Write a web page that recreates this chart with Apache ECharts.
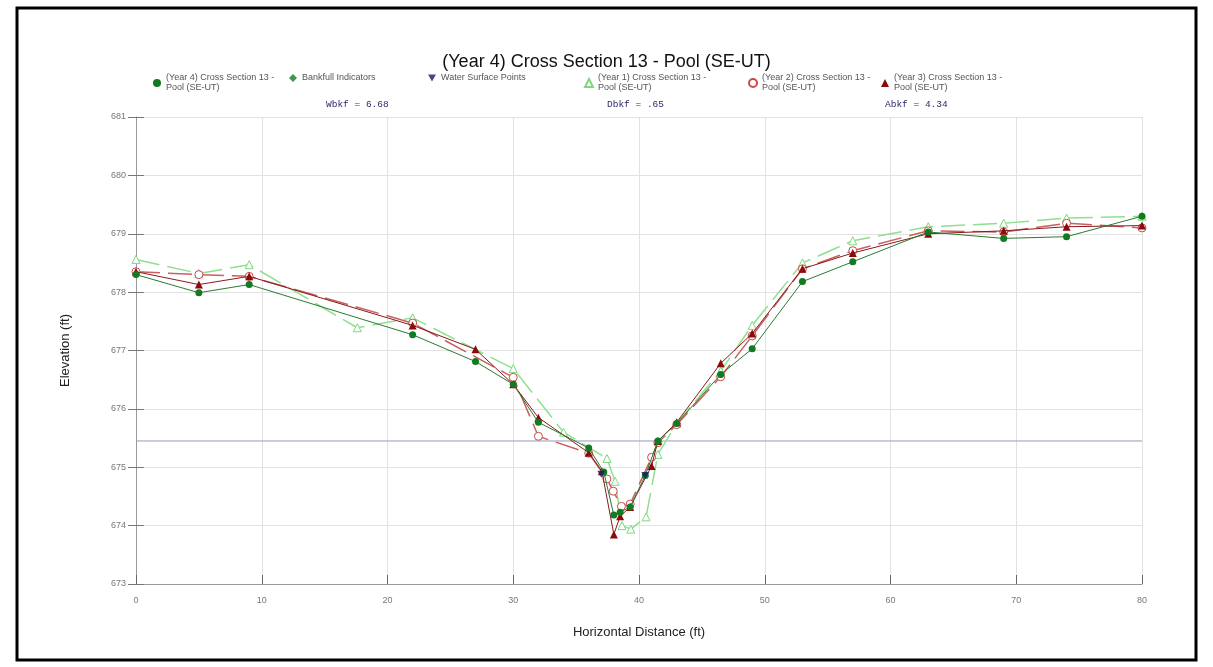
<!DOCTYPE html>
<html>
<head>
<meta charset="utf-8">
<script src="https://cdn.jsdelivr.net/npm/echarts@6/dist/echarts.min.js"></script>
<style>html,body{margin:0;padding:0;background:#fff}#c{width:1213px;height:667px}</style>
</head>
<body>
<div id="c"></div>
<script>
const titleText = '(Year 4) Cross Section 13 - Pool (SE-UT)';
const nameY4 = '(Year 4) Cross Section 13 - Pool (SE-UT)';
const nameY1 = '(Year 1) Cross Section 13 - Pool (SE-UT)';
const nameY2 = '(Year 2) Cross Section 13 - Pool (SE-UT)';
const nameY3 = '(Year 3) Cross Section 13 - Pool (SE-UT)';
const nameBank = 'Bankfull Indicators';
const nameWS = 'Water Surface Points';

const year4 = [[0,678.3],[5,677.99],[9,678.13],[22,677.27],[27,676.81],[30,676.42],[32,675.77],[36,675.33],[37.2,674.92],[38,674.18],[38.5,674.23],[39.3,674.32],[40.5,674.86],[41.5,675.45],[43,675.75],[46.5,676.59],[49,677.03],[53,678.18],[57,678.52],[63,679.03],[69,678.92],[74,678.95],[80,679.3]];
const year1 = [[0,678.56],[5,678.32],[9,678.47],[17.6,677.39],[22,677.56],[30,676.69],[34,675.6],[37.45,675.15],[38.1,674.76],[38.65,674.0],[39.35,673.94],[40.56,674.15],[41.5,675.22],[43,675.75],[46.5,676.65],[49,677.43],[53,678.5],[57,678.88],[63,679.12],[69,679.18],[74,679.27],[80,679.3]];
const year2 = [[0,678.35],[5,678.3],[9,678.27],[22,677.47],[30,676.54],[32,675.53],[36,675.24],[37.45,674.8],[37.95,674.59],[38.6,674.33],[39.3,674.37],[41,675.17],[41.5,675.42],[43,675.73],[46.5,676.55],[49,677.25],[53,678.4],[57,678.71],[63,679.05],[69,679.03],[74,679.18],[80,679.1]];
const year3 = [[0,678.35],[5,678.13],[9,678.27],[22,677.43],[27,677.02],[30,676.42],[32,675.85],[36,675.25],[37.05,674.93],[38,673.85],[38.5,674.16],[39.3,674.32],[41,675.02],[41.5,675.45],[43,675.77],[46.5,676.78],[49,677.29],[53,678.4],[57,678.67],[63,679.0],[69,679.05],[74,679.12],[80,679.14]];
const waterSurface = [[37,674.88],[40.5,674.86]];
const bankfullIndicators = [];
const bankfullElev = 675.45;
const bankfullLine = [[0,bankfullElev],[80,bankfullElev]];
const annotations = ['Wbkf = 6.68','Dbkf = .65','Abkf = 4.34'];
const xTicks = {min:0,max:80,interval:10};
const yTicks = {min:673,max:681,interval:1};

const chart = echarts.init(document.getElementById('c'));
const font = 'Liberation Sans, Arial, sans-serif';
const downTri = 'path://M0,0 L10,0 L5,9 Z';

function legendAt(left, name, icon) {
  return {
    left: left, top: 63, orient: 'horizontal', itemWidth: 8, itemHeight: 8,
    data: [{name: name, icon: icon}],
    formatter: function (n) { return n.replace(' - Pool', ' -\nPool'); },
    textStyle: {fontFamily: font, fontSize: 9, color: '#555', lineHeight: 10, padding: [10,0,0,0]},
    itemGap: 4, selectedMode: false
  };
}

const option = {
  backgroundColor: '#fff',
  animation: false,
  title: {text: titleText, left: 'center', top: 48, textStyle: {fontFamily: font, fontSize: 18, fontWeight: 'normal', color: '#111'}},
  legend: [
    legendAt(148, nameY4, 'circle'),
    legendAt(284, nameBank, 'diamond'),
    legendAt(423, nameWS, downTri),
    legendAt(579, nameY1, 'triangle'),
    legendAt(743, nameY2, 'circle'),
    legendAt(876, nameY3, 'triangle')
  ],
  grid: {left: 136, right: 71, top: 117, bottom: 83, containLabel: false},
  xAxis: {
    type: 'value', min: xTicks.min, max: xTicks.max, interval: xTicks.interval,
    name: 'Horizontal Distance (ft)', nameLocation: 'middle', nameGap: 42,
    nameTextStyle: {fontFamily: font, fontSize: 13, color: '#222'},
    axisLine: {lineStyle: {color: '#999', width: 1}},
    axisTick: {show: true, inside: true, length: 9, lineStyle: {color: '#666'}},
    axisLabel: {fontFamily: font, fontSize: 9, color: '#777', margin: 12},
    splitLine: {show: true, lineStyle: {color: '#e2e2e2', width: 1}}
  },
  yAxis: [{
    type: 'value', min: yTicks.min, max: yTicks.max, interval: yTicks.interval,
    name: 'Elevation (ft)', nameLocation: 'middle', nameGap: 64,
    nameTextStyle: {fontFamily: font, fontSize: 13, color: '#222'},
    axisLine: {show: true, lineStyle: {color: '#999', width: 1}},
    axisTick: {show: true, inside: false, length: 8, lineStyle: {color: '#777'}},
    axisLabel: {fontFamily: font, fontSize: 9, color: '#777', margin: 10},
    splitLine: {show: true, lineStyle: {color: '#e2e2e2', width: 1}}
  }, {
    type: 'value', min: yTicks.min, max: yTicks.max, interval: yTicks.interval, position: 'left',
    axisLine: {show: false}, axisLabel: {show: false}, splitLine: {show: false},
    axisTick: {show: true, inside: true, length: 8, lineStyle: {color: '#777'}}
  }],
  graphic: [
    {type: 'rect', shape: {x: 17, y: 8, width: 1179, height: 652}, style: {fill: 'none', stroke: '#000', lineWidth: 3}, silent: true},
    {type: 'text', left: 326, top: 99, style: {text: annotations[0], font: '9.5px "Liberation Mono", monospace', fill: '#2a2a6a'}},
    {type: 'text', left: 607, top: 99, style: {text: annotations[1], font: '9.5px "Liberation Mono", monospace', fill: '#2a2a6a'}},
    {type: 'text', left: 885, top: 99, style: {text: annotations[2], font: '9.5px "Liberation Mono", monospace', fill: '#2a2a6a'}}
  ],
  series: [
    {name: 'bankfull', type: 'line', data: bankfullLine, symbol: 'none', lineStyle: {color: '#9a9ac0', width: 1}, z: 1, silent: true},
    {name: nameY1, type: 'line', data: year1, symbol: 'triangle', symbolSize: 8,
     itemStyle: {color: '#fff', borderColor: '#7fd87f', borderWidth: 1},
     lineStyle: {color: '#8ee08e', width: 1.5, type: [24, 8]}, z: 2},
    {name: nameY2, type: 'line', data: year2, symbol: 'circle', symbolSize: 8,
     itemStyle: {color: '#fff', borderColor: '#c84a4a', borderWidth: 1},
     lineStyle: {color: '#c86060', width: 1.5, type: [24, 8]}, z: 3},
    {name: nameY3, type: 'line', data: year3, symbol: 'triangle', symbolSize: 8,
     itemStyle: {color: '#8b0a0a'},
     lineStyle: {color: '#8b1a1a', width: 1}, z: 4},
    {name: nameY4, type: 'line', data: year4, symbol: 'circle', symbolSize: 7,
     itemStyle: {color: '#127a20'},
     lineStyle: {color: '#2a7a30', width: 1}, z: 5},
    {name: nameBank, type: 'scatter', data: bankfullIndicators, symbol: 'diamond', symbolSize: 8, itemStyle: {color: '#127a20'}, z: 6},
    {name: nameWS, type: 'scatter', data: waterSurface, symbol: downTri, symbolSize: [8,7], itemStyle: {color: '#1a1a6e'}, z: 6}
  ]
};
chart.setOption(option);
</script>
</body>
</html>
